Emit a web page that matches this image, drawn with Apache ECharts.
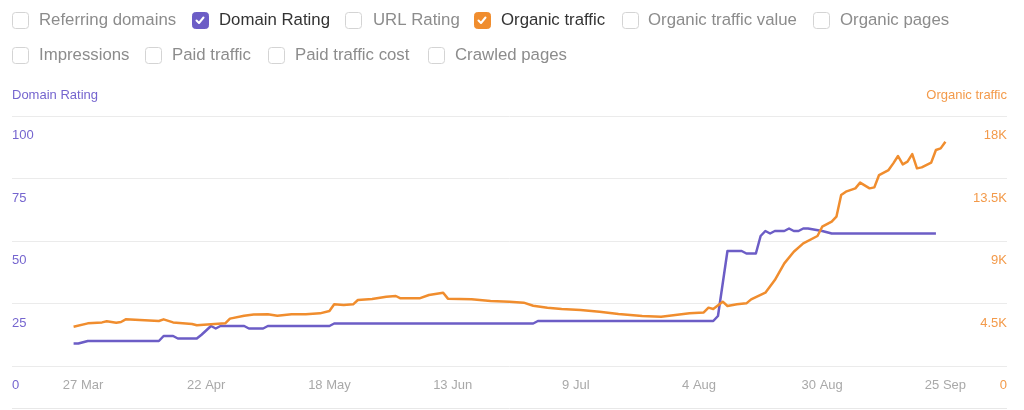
<!DOCTYPE html>
<html><head><meta charset="utf-8">
<script src="https://cdn.jsdelivr.net/npm/echarts@6/dist/echarts.min.js"></script>
<style>html,body{margin:0;padding:0;background:#fff}#c{width:1024px;height:410px}</style>
</head><body><div id="c"></div>
<script>
// ---- data ----
const tickLabels = ['27 Mar','22 Apr','18 May','13 Jun','9 Jul','4 Aug','30 Aug','25 Sep'];
const drTickLabels = ['0','25','50','75','100'];
const otTickLabels = ['0','4.5K','9K','13.5K','18K'];

const drDates = ['25 Mar','26 Mar','28 Mar','12 Apr','13 Apr','15 Apr','16 Apr','20 Apr','21 Apr','23 Apr','24 Apr','25 Apr','30 Apr','1 May','4 May','5 May','18 May','19 May','30 Jun','1 Jul','7 Aug','8 Aug','10 Aug','13 Aug','14 Aug','16 Aug','17 Aug','18 Aug','19 Aug','20 Aug','22 Aug','23 Aug','24 Aug','25 Aug','26 Aug','27 Aug','30 Aug','1 Sep','2 Sep','23 Sep'];
const drValues = [9,9,10,10,12,12,11,11,12.5,16,15,16,16,15,15,16,16,17,17,18,18,20,46,46,45,45,52,54,53,54,54,55,54,54,55,55,54,53,53,53];

const otDates = ['25 Mar','28 Mar','31 Mar','1 Apr','3 Apr','4 Apr','5 Apr','8 Apr','12 Apr','13 Apr','15 Apr','19 Apr','20 Apr','23 Apr','26 Apr','27 Apr','30 Apr','2 May','5 May','7 May','10 May','13 May','16 May','18 May','19 May','21 May','23 May','24 May','27 May','30 May','1 Jun','2 Jun','6 Jun','8 Jun','11 Jun','12 Jun','17 Jun','21 Jun','25 Jun','28 Jun','30 Jun','3 Jul','6 Jul','10 Jul','14 Jul','18 Jul','23 Jul','27 Jul','30 Jul','2 Aug','5 Aug','6 Aug','7 Aug','9 Aug','10 Aug','12 Aug','14 Aug','15 Aug','18 Aug','20 Aug','22 Aug','24 Aug','26 Aug','29 Aug','30 Aug','1 Sep','2 Sep','3 Sep','4 Sep','6 Sep','7 Sep','9 Sep','10 Sep','11 Sep','13 Sep','14 Sep','15 Sep','16 Sep','17 Sep','18 Sep','19 Sep','20 Sep','22 Sep','23 Sep','24 Sep','25 Sep'];
const otValues = [2830,3070,3140,3220,3120,3170,3360,3310,3240,3360,3140,3020,2930,3000,3070,3410,3620,3700,3720,3620,3720,3720,3790,3960,4440,4390,4440,4750,4820,4990,5040,4870,4870,5110,5280,4850,4800,4680,4630,4560,4340,4200,4100,4030,3910,3740,3600,3550,3670,3790,3860,4200,4100,4630,4320,4440,4510,4800,5280,6190,7390,8230,8830,9360,10030,10390,10750,12310,12550,12790,13200,12790,12860,13750,14110,14590,15120,14520,14710,15260,14230,14300,14640,15550,15670,16150];

const legendRow1 = ['Referring domains','Domain Rating','URL Rating','Organic traffic','Organic traffic value','Organic pages'];
const legendRow2 = ['Impressions','Paid traffic','Paid traffic cost','Crawled pages'];
const checkedItems = ['Domain Rating','Organic traffic'];

// ---- layout / style ----
const PURPLE = '#6c5dc6', ORANGE = '#f08d2e';
const row1Box = [12,192,345,474,622,813], row1Text = [39,219,373,501,648,840];
const row2Box = [12,145,268,428], row2Text = [39,172,295,455];
const FONT = 'Liberation Sans, Helvetica, Arial, sans-serif';

// categories: every day from 12 Mar to 8 Oct
const months = [['Mar',31],['Apr',30],['May',31],['Jun',30],['Jul',31],['Aug',31],['Sep',30],['Oct',31]];
const categories = [];
let on = false, done = false;
for (const [m,n] of months) {
  for (let d = 1; d <= n && !done; d++) {
    const s = d + ' ' + m;
    if (s === '12 Mar') on = true;
    if (on) categories.push(s);
    if (s === '8 Oct') done = true;
  }
}

const graphics = [];
function addItem(label, bx, tx, by) {
  const checked = checkedItems.includes(label);
  const col = label === 'Domain Rating' ? PURPLE : ORANGE;
  graphics.push({type:'rect', left:bx, top:by, shape:{x:0,y:0,width:16,height:16,r:3},
    style:{fill: checked ? col : '#fff', stroke: checked ? col : '#d4d4d4', lineWidth:1}});
  if (checked) {
    graphics.push({type:'polyline', shape:{points:[[bx+4.5,by+8.5],[bx+7,by+11],[bx+11.5,by+5.5]]},
      style:{stroke:'#fff', lineWidth:2, fill:null, lineCap:'round', lineJoin:'round'}});
  }
  graphics.push({type:'text', x:tx, y:by+8.5, style:{text:label, fill: checked ? '#333' : '#8c8c8c',
    fontSize:16.8, fontFamily:FONT, verticalAlign:'middle', align:'left'}});
}
legendRow1.forEach((l,i)=>addItem(l, row1Box[i], row1Text[i], 12));
legendRow2.forEach((l,i)=>addItem(l, row2Box[i], row2Text[i], 47));
graphics.push({type:'line', shape:{x1:12,y1:408.5,x2:1007,y2:408.5}, style:{stroke:'#e8e8e8', lineWidth:1}});

const chart = echarts.init(document.getElementById('c'));
chart.setOption({
  animation:false,
  textStyle:{fontFamily:FONT},
  grid:{left:12, right:17, top:116, bottom:44, containLabel:false},
  xAxis:{type:'category', data:categories, boundaryGap:false,
    axisLine:{show:false}, axisTick:{show:false}, splitLine:{show:false},
    axisLabel:{interval:(i,v)=>tickLabels.includes(v), color:'#a9a9a9', fontSize:13, margin:13}},
  yAxis:[
    {type:'value', min:0, max:100, interval:25, position:'left',
     name:'Domain Rating', nameLocation:'end', nameGap:21,
     nameTextStyle:{color:'#7565cf', fontSize:13, align:'left', verticalAlign:'middle'},
     axisLine:{show:false}, axisTick:{show:false},
     splitLine:{show:true, lineStyle:{color:'#ebebeb', width:1}},
     axisLabel:{inside:true, margin:0, color:'#7565cf', fontSize:13, verticalAlign:'top', padding:[13,0,0,0],
       formatter:(v,i)=>drTickLabels[i]}},
    {type:'value', min:0, max:18000, interval:4500, position:'right',
     name:'Organic traffic', nameLocation:'end', nameGap:21,
     nameTextStyle:{color:'#f39a4a', fontSize:13, align:'right', verticalAlign:'middle'},
     axisLine:{show:false}, axisTick:{show:false}, splitLine:{show:false},
     axisLabel:{inside:true, margin:0, color:'#f39a4a', fontSize:13, verticalAlign:'top', padding:[13,0,0,0],
       formatter:(v,i)=>otTickLabels[i]}}
  ],
  series:[
    {name:'Domain Rating', type:'line', yAxisIndex:0, showSymbol:false, symbol:'none',
     data:drDates.map((d,i)=>[d, drValues[i]]),
     lineStyle:{color:PURPLE, width:2.5, join:'round'}, itemStyle:{color:PURPLE}},
    {name:'Organic traffic', type:'line', yAxisIndex:1, showSymbol:false, symbol:'none',
     data:otDates.map((d,i)=>[d, otValues[i]]),
     lineStyle:{color:ORANGE, width:2.5, join:'round'}, itemStyle:{color:ORANGE}}
  ],
  graphic:graphics
});
</script></body></html>
